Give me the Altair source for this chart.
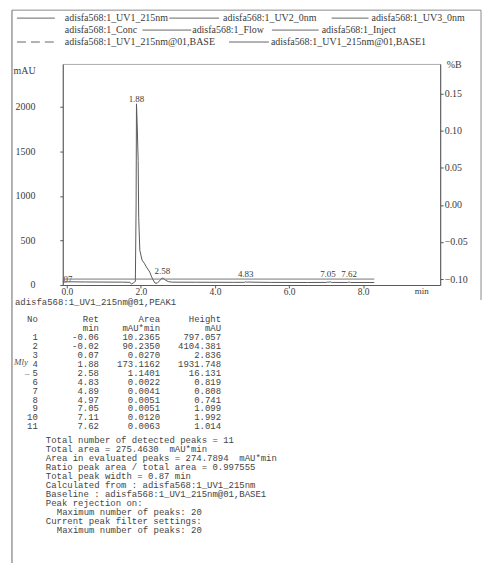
import altair as alt
import pandas as pd

# ---------------- chromatogram data ----------------
trace_t = [-0.11, 0.07, 0.50, 1.00, 1.50, 1.70, 1.75, 1.80, 1.85, 1.87,
           1.88, 1.90, 1.925, 1.94, 1.97, 2.03, 2.09, 2.15, 2.20, 2.24,
           2.28, 2.33, 2.38, 2.44, 2.50, 2.56, 2.60, 2.66, 2.74, 2.85,
           3.50, 4.50, 4.80, 4.83, 4.86, 4.89, 4.97, 5.50, 6.50, 7.02,
           7.05, 7.08, 7.11, 7.14, 7.58, 7.62, 7.66, 8.30]
trace_mau = [32, 36, 34, 33, 32, 30, 12, 25, 40, 900,
             2035, 1800, 1398, 760, 391, 280, 245, 201, 170, 145,
             100, 56, 22, 20, 45, 75, 78, 55, 38, 32,
             31, 30, 30, 36, 31, 34, 32, 29, 28, 29,
             35, 30, 36, 29, 28, 34, 28, 28]

pctb_t = [-0.11, 8.30]
pctb_val = [-0.10, -0.10]

peak_labels = ["1.88", "2.58", "4.83", "7.05", "7.62"]
peak_label_t = [1.88, 2.58, 4.83, 7.05, 7.62]
peak_label_mau = [2092, 157, 123, 123, 123]
first_label = ["0.07"]
first_label_t = [0.07]
first_label_mau = [67]

# ---------------- legend header ----------------
legend_labels = ["adisfa568:1_UV1_215nm", "adisfa568:1_UV2_0nm", "adisfa568:1_UV3_0nm",
                 "adisfa568:1_Conc", "adisfa568:1_Flow", "adisfa568:1_Inject",
                 "adisfa568:1_UV1_215nm@01,BASE", "adisfa568:1_UV1_215nm@01,BASE1"]
legend_rows = [0, 0, 0, 1, 1, 1, 2, 2]

# ---------------- peak table ----------------
table_title = "adisfa568:1_UV1_215nm@01,PEAK1"
table_cols = ["No", "Ret", "Area", "Height"]
table_units = ["", "min", "mAU*min", "mAU"]
table_no = ["1", "2", "3", "4", "5", "6", "7", "8", "9", "10", "11"]
table_ret = ["-0.06", "-0.02", "0.07", "1.88", "2.58", "4.83", "4.89", "4.97", "7.05", "7.11", "7.62"]
table_area = ["10.2365", "90.2350", "0.0270", "173.1162", "1.1401", "0.0022",
              "0.0041", "0.0051", "0.0051", "0.0120", "0.0063"]
table_height = ["797.057", "4104.381", "2.836", "1931.748", "16.131", "0.819",
                "0.808", "0.741", "1.099", "1.992", "1.014"]
summary_lines = [
    "Total number of detected peaks = 11",
    "Total area = 275.4630  mAU*min",
    "Area in evaluated peaks = 274.7894  mAU*min",
    "Ratio peak area / total area = 0.997555",
    "Total peak width = 0.87 min",
    "Calculated from : adisfa568:1_UV1_215nm",
    "Baseline : adisfa568:1_UV1_215nm@01,BASE1",
    "Peak rejection on:",
    "Maximum number of peaks: 20",
    "Current peak filter settings:",
    "Maximum number of peaks: 20",
]
summary_indented = [False, False, False, False, False, False, False, False, True, False, True]

# ---------------- layout / style ----------------
SERIF = "Liberation Serif"
MONO = "Liberation Mono"
TXT = "#3a3a3a"
MTXT = "#444444"
LN = "#5a5a5a"
W, H = 379, 222
NB = "\u00a0"
MONO_SIZE = 9


def keep_spaces(s):
    return s.replace(" ", NB)


# legend layout (page px)
leg_line_x1 = [17, 170, 333, None, 143, 273, 17, 230]
leg_line_x2 = [55, 220, 370, None, 192, 320, 57, 270]
leg_text_x = [65, 224, 373, 65, 193, 323, 65, 272]
leg_dashed = [False, False, False, False, False, False, True, False]

x_scale = alt.Scale(domain=[-0.11, 10.08], nice=False, zero=False)
y_scale = alt.Scale(domain=[0, 2483], nice=False, zero=False)
b_scale = alt.Scale(domain=[-0.108, 0.19], nice=False, zero=False)

x_axis = alt.Axis(values=[0, 2, 4, 6, 8], format=".1f", title="min", titleX=360, titleY=6,
                  titleAngle=0, titleBaseline="middle", titleAlign="center",
                  titleFontWeight="normal", titleFontSize=9, titleFont=SERIF, titleColor=TXT,
                  labelFont=SERIF, labelFontSize=9.5, labelColor=TXT, labelPadding=-1,
                  tickSize=3, tickColor=LN, domainColor=LN, grid=False)
y_axis = alt.Axis(values=[0, 500, 1000, 1500, 2000], format="d", title="mAU", titleX=-50, titleY=7,
                  titleAngle=0, titleBaseline="middle", titleAlign="left",
                  titleFontWeight="normal", titleFontSize=10, titleFont=SERIF, titleColor=TXT,
                  labelFont=SERIF, labelFontSize=10, labelColor=TXT, labelPadding=25,
                  tickSize=3, tickColor=LN, domainColor=LN, grid=False)
b_axis = alt.Axis(orient="right", values=[-0.10, -0.05, 0.0, 0.05, 0.10, 0.15], format=".2f",
                  title="%B", titleX=6, titleY=1, titleAngle=0, titleBaseline="middle",
                  titleAlign="left", titleFontWeight="normal", titleFontSize=10, titleFont=SERIF,
                  titleColor=TXT, labelFont=SERIF, labelFontSize=10, labelColor=TXT,
                  labelPadding=1, tickSize=3, tickColor=LN, domainColor=LN, grid=False)

# ---------------- chromatogram layers ----------------
trace_df = pd.DataFrame({"t": trace_t, "mAU": trace_mau})
trace = alt.Chart(trace_df).mark_line(color=LN, strokeWidth=1, clip=True).encode(
    x=alt.X("t:Q", scale=x_scale, axis=x_axis),
    y=alt.Y("mAU:Q", scale=y_scale, axis=y_axis),
)
pl_df = pd.DataFrame({"t": peak_label_t, "mAU": peak_label_mau, "label": peak_labels})
plabels = alt.Chart(pl_df).mark_text(font=SERIF, fontSize=9, color=TXT, baseline="middle").encode(
    x=alt.X("t:Q", scale=x_scale), y=alt.Y("mAU:Q", scale=y_scale), text="label:N")
fl_df = pd.DataFrame({"t": first_label_t, "mAU": first_label_mau, "label": first_label})
flabel = alt.Chart(fl_df).mark_text(font=SERIF, fontSize=9, color=TXT, baseline="middle",
                                    align="right", dx=3, clip=True).encode(
    x=alt.X("t:Q", scale=x_scale), y=alt.Y("mAU:Q", scale=y_scale), text="label:N")
chrom = alt.layer(trace, plabels, flabel)

pb_df = pd.DataFrame({"t": pctb_t, "B": pctb_val})
pctb = alt.Chart(pb_df).mark_line(color="#777", strokeWidth=1).encode(
    x=alt.X("t:Q", scale=x_scale, axis=None),
    y=alt.Y("B:Q", scale=b_scale, axis=b_axis),
)

# ---------------- legend header ----------------
page_x = alt.Scale(domain=[0, 500], range=[-63, 437], nice=False, zero=False)
leg_y = alt.Scale(domain=[0, 2], range=[-46, -22], nice=False, zero=False)
leg_df = pd.DataFrame({"label": legend_labels, "row": legend_rows, "tx": leg_text_x,
                       "x1": leg_line_x1, "x2": leg_line_x2, "dash": leg_dashed})
leg_text = alt.Chart(leg_df).mark_text(font=SERIF, fontSize=10, color=TXT, align="left",
                                       baseline="middle").encode(
    x=alt.X("tx:Q", scale=page_x, axis=None), y=alt.Y("row:Q", scale=leg_y, axis=None),
    text="label:N")
solid_df = leg_df[leg_df["x1"].notna() & (~leg_df["dash"])]
dash_df = leg_df[leg_df["x1"].notna() & (leg_df["dash"])]
leg_solid = alt.Chart(solid_df).mark_rule(color="#666", strokeWidth=1).encode(
    x=alt.X("x1:Q", scale=page_x, axis=None), x2="x2:Q",
    y=alt.Y("row:Q", scale=leg_y, axis=None))
leg_dash = alt.Chart(dash_df).mark_rule(color="#666", strokeWidth=1, strokeDash=[9, 5]).encode(
    x=alt.X("x1:Q", scale=page_x, axis=None), x2="x2:Q",
    y=alt.Y("row:Q", scale=leg_y, axis=None))
legend = alt.layer(leg_solid, leg_dash, leg_text)

# ---------------- table ----------------
rows = []
for c, u in zip(table_cols, table_units):
    rows.append({"r": -1, "col": c, "txt": c})
    rows.append({"r": 0, "col": c, "txt": u})
for i in range(len(table_no)):
    for c, v in zip(table_cols, [table_no[i], table_ret[i], table_area[i], table_height[i]]):
        rows.append({"r": i + 1, "col": c, "txt": v})
tab_df = pd.DataFrame(rows)
tab_x = alt.Scale(type="point", domain=table_cols, range=[-25, 159], padding=0)
tab_y = alt.Scale(domain=[1, 11], range=[274, 364], nice=False, zero=False)
tab_text = alt.Chart(tab_df).mark_text(font=MONO, fontSize=MONO_SIZE, color=MTXT, align="right",
                                       baseline="middle").encode(
    x=alt.X("col:N", scale=tab_x, axis=None), y=alt.Y("r:Q", scale=tab_y, axis=None),
    text="txt:N")
title_df = pd.DataFrame({"txt": [table_title]})
tab_title = alt.Chart(title_df).mark_text(font=MONO, fontSize=MONO_SIZE, color=MTXT, align="left",
                                          baseline="middle").encode(
    x=alt.value(-48), y=alt.value(239), text="txt:N")

sum_df = pd.DataFrame({"i": list(range(len(summary_lines))),
                       "txt": [keep_spaces(s) for s in summary_lines],
                       "ind": summary_indented})
sum_y = alt.Scale(domain=[0, 10], range=[378, 468], nice=False, zero=False)
summary_main = alt.Chart(sum_df[~sum_df["ind"]]).mark_text(
    font=MONO, fontSize=MONO_SIZE, color=MTXT, align="left", baseline="middle").encode(
    x=alt.value(-17), y=alt.Y("i:Q", scale=sum_y, axis=None), text="txt:N")
summary_ind = alt.Chart(sum_df[sum_df["ind"]]).mark_text(
    font=MONO, fontSize=MONO_SIZE, color=MTXT, align="left", baseline="middle").encode(
    x=alt.value(-6), y=alt.Y("i:Q", scale=sum_y, axis=None), text="txt:N")
summary = alt.layer(summary_main, summary_ind)

# ---------------- handwriting & frame ----------------
one = pd.DataFrame({"k": [0]})
hand1 = alt.Chart(one).mark_text(text="Mly", font=SERIF, fontStyle="italic", fontSize=9,
                                 color="#555", align="left", baseline="middle").encode(
    x=alt.value(-49), y=alt.value(299))
hand2 = alt.Chart(one).mark_text(text="\u2013", font=SERIF, fontSize=9, color="#555",
                                 align="left", baseline="middle").encode(
    x=alt.value(-38), y=alt.value(310))
frame_l = alt.Chart(one).mark_rule(color="#666", strokeWidth=1).encode(
    x=alt.value(-51), y=alt.value(-54), y2=alt.value(510))
frame_t = alt.Chart(one).mark_rule(color="#888", strokeWidth=1).encode(
    x=alt.value(-51), x2=alt.value(420), y=alt.value(-54))
frame_r = alt.Chart(one).mark_rule(color="#888", strokeWidth=1).encode(
    x=alt.value(420), y=alt.value(-54), y2=alt.value(237))
deco = alt.layer(hand1, hand2, frame_l, frame_t, frame_r)

chart = alt.layer(chrom, pctb, legend, tab_text, tab_title, summary, deco).resolve_scale(
    x="independent", y="independent"
).properties(
    width=W, height=H,
    autosize=alt.AutoSizeParams(type="none"),
    padding={"left": 55, "top": 55, "right": 45, "bottom": 278},
).configure_view(stroke="#aaa", strokeWidth=1)

chart.save("out.html", embed_options={"renderer": "svg", "actions": False})
